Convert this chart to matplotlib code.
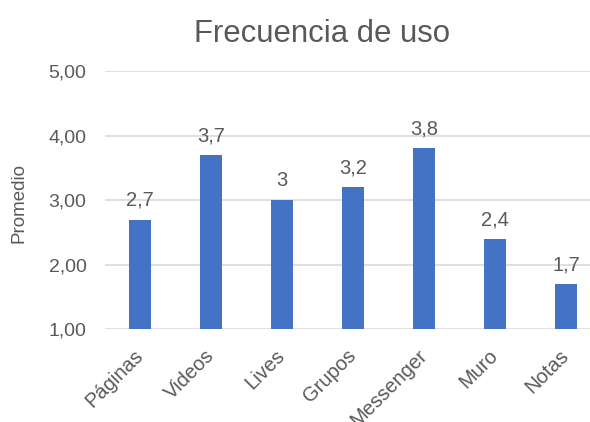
import matplotlib
matplotlib.use("Agg")
import matplotlib.pyplot as plt
from matplotlib.transforms import ScaledTranslation

categories = ["Páginas", "Videos", "Lives", "Grupos", "Messenger", "Muro", "Notas"]
values = [2.7, 3.7, 3.0, 3.2, 3.8, 2.4, 1.7]
value_labels = ["2,7", "3,7", "3", "3,2", "3,8", "2,4", "1,7"]
yticks = [1, 2, 3, 4, 5]
ytick_labels = ["1,00", "2,00", "3,00", "4,00", "5,00"]

plt.rcParams['font.family'] = ['Liberation Sans', 'DejaVu Sans']
TXT = '#595959'

fig = plt.figure(figsize=(5.9, 4.22), dpi=100)
W, H = 590, 422
left, right = 104.5, 601.5
top, bottom = 71, 329.3
ax = fig.add_axes([left / W, 1 - bottom / H, (right - left) / W, (bottom - top) / H])

x = list(range(len(categories)))
ax.bar(x, [v - 1 for v in values], bottom=1, width=0.32, color='#4472C4', zorder=3)
ax.set_xlim(-0.5, len(categories) - 0.5)
ax.set_ylim(1, 5)
ax.set_yticks(yticks)
ax.set_yticklabels(ytick_labels, fontsize=14, color=TXT)
ax.set_xticks(x)
ax.set_xticklabels(categories, fontsize=14.5, color=TXT, rotation=45, ha='right',
                   rotation_mode='anchor', va='center')
off = ScaledTranslation(5 / 100, 0, fig.dpi_scale_trans)
for lab in ax.get_xticklabels():
    lab.set_transform(lab.get_transform() + off)
ax.tick_params(axis='y', length=0, pad=13)
ax.tick_params(axis='x', length=0, pad=17)
ax.grid(axis='y', color='#D9D9D9', linewidth=1.2, zorder=0)
for s in ax.spines.values():
    s.set_visible(False)

for xi, v, lab in zip(x, values, value_labels):
    ax.annotate(lab, (xi, v), xytext=(0, 7), textcoords='offset points',
                ha='center', va='bottom', fontsize=14.5, color=TXT)

fig.text(19 / W, 1 - 203 / H, "Promedio", rotation=90, ha='center', va='center',
         fontsize=13.5, color=TXT)
fig.text(322.5 / W, 1 - 42 / H, "Frecuencia de uso", ha='center', va='baseline',
         fontsize=22.4, color=TXT)

fig.savefig("out.png", dpi=100)
